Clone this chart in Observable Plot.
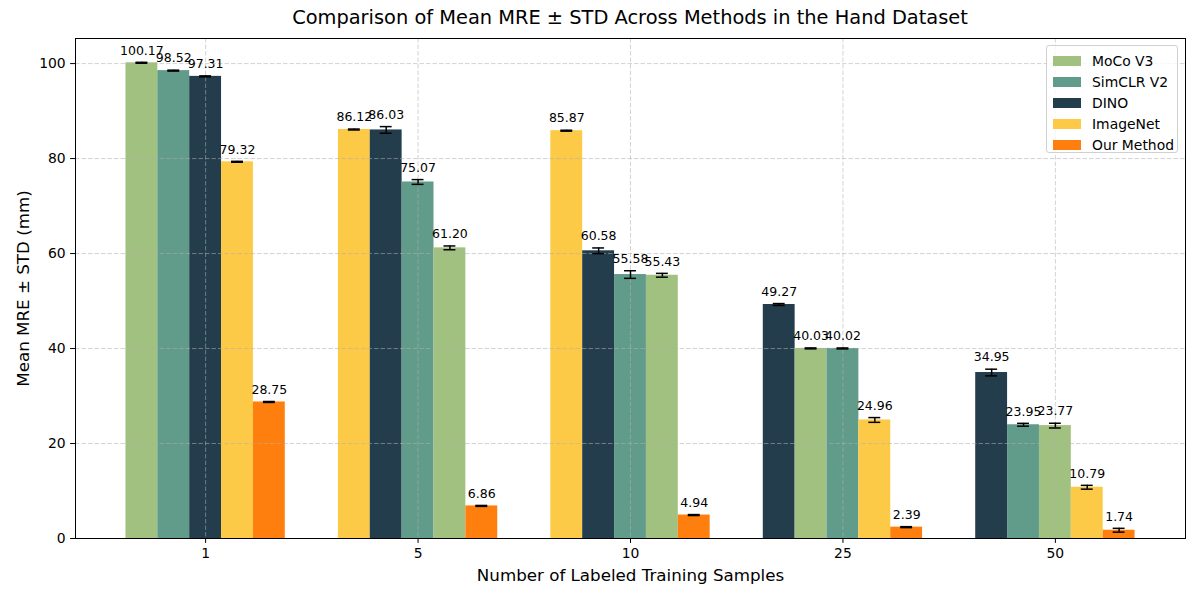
<!DOCTYPE html>
<html>
<head>
<meta charset="utf-8">
<script src="https://cdn.jsdelivr.net/npm/d3@7"></script>
<script src="https://cdn.jsdelivr.net/npm/@observablehq/plot@0.6"></script>
<style>
  html, body { margin: 0; padding: 0; background: white; }
  #wrap { position: relative; width: 1200px; height: 600px; font-family: "DejaVu Sans", sans-serif; }
  #title { height: 37px; box-sizing: border-box; padding: 6px 15px 0 75px; text-align: center; font-size: 19.4px; color: black; line-height: 24px; }
  #legend { position: absolute; left: 1046px; top: 45px; width: 132px; height: 108px; box-sizing: border-box;
    border: 1px solid #d0d0d0; border-radius: 3px; background: rgba(255,255,255,0.8); padding: 4px 0 0 6px; }
  .row { display: flex; align-items: center; height: 21px; font-size: 13.9px; color: black; }
  .sw { width: 28px; height: 10px; margin-right: 11px; }
</style>
</head>
<body>
<div id="wrap">
  <div id="title">Comparison of Mean MRE ± STD Across Methods in the Hand Dataset</div>
  <div id="chart"></div>
  <div id="legend"></div>
</div>
<script>
const groups = ["1", "5", "10", "25", "50"];
const methods = ["MoCo V3", "SimCLR V2", "DINO", "ImageNet", "Our Method"];
const colors = ["#a1c181", "#619b8a", "#233d4d", "#fcca46", "#ff7f0e"];

const mocoMean     = [100.17, 61.20, 55.43, 40.03, 23.77];
const simclrMean   = [98.52, 75.07, 55.58, 40.02, 23.95];
const dinoMean     = [97.31, 86.03, 60.58, 49.27, 34.95];
const imagenetMean = [79.32, 86.12, 85.87, 24.96, 10.79];
const oursMean     = [28.75, 6.86, 4.94, 2.39, 1.74];

const mocoStd     = [0.1, 0.4, 0.4, 0.1, 0.5];
const simclrStd   = [0.1, 0.5, 0.8, 0.1, 0.3];
const dinoStd     = [0.1, 0.7, 0.6, 0.2, 0.7];
const imagenetStd = [0.1, 0.1, 0.1, 0.5, 0.4];
const oursStd     = [0.1, 0.1, 0.1, 0.1, 0.4];

const yTicks = [0, 20, 40, 60, 80, 100];

const means = [mocoMean, simclrMean, dinoMean, imagenetMean, oursMean];
const stds = [mocoStd, simclrStd, dinoStd, imagenetStd, oursStd];

// build table: within each group, bars sorted by value descending
const bw = 0.15;
const nm = methods.length;
const data = [];
groups.forEach((g, gi) => {
  const rows = methods.map((m, mi) => ({group: g, gi, method: m, value: means[mi][gi], std: stds[mi][gi]}));
  rows.sort((a, b) => b.value - a.value);
  rows.forEach((r, rank) => {
    r.xc = gi + (rank - (nm - 1) / 2) * bw;
    data.push(r);
  });
});

const lo = -(nm * bw) / 2, hi = groups.length - 1 + (nm * bw) / 2;
const pad = 0.05 * (hi - lo);
const yMax = d3.max(data, d => d.value + d.std) * 1.05;
const capHalf = 0.028;

const gridStyle = {stroke: "#b0b0b0", strokeOpacity: 0.7, strokeWidth: 0.8, strokeDasharray: "4.5,2"};

const chart = Plot.plot({
  width: 1200,
  height: 563,
  marginTop: 1,
  marginBottom: 62,
  marginLeft: 75,
  marginRight: 15,
  style: {fontFamily: "DejaVu Sans", fontSize: "13.9px", color: "black", background: "white"},
  x: {domain: [lo - pad, hi + pad]},
  y: {domain: [0, yMax]},
  color: {domain: methods, range: colors},
  marks: [
    Plot.rect(data, {x1: d => d.xc - bw / 2, x2: d => d.xc + bw / 2, y1: 0, y2: "value", fill: "method", inset: 0}),
    Plot.gridX(groups.map((g, i) => i), gridStyle),
    Plot.gridY(yTicks, gridStyle),
    Plot.ruleX(data, {x: "xc", y1: d => d.value - d.std, y2: d => d.value + d.std, stroke: "black", strokeWidth: 1.5}),
    Plot.ruleY(data, {y: d => d.value - d.std, x1: d => d.xc - capHalf, x2: d => d.xc + capHalf, stroke: "black", strokeWidth: 1.5}),
    Plot.ruleY(data, {y: d => d.value + d.std, x1: d => d.xc - capHalf, x2: d => d.xc + capHalf, stroke: "black", strokeWidth: 1.5}),
    Plot.text(data, {x: "xc", y: d => d.value + d.std + 1, text: d => d.value.toFixed(2), lineAnchor: "bottom", dy: -3, fontSize: 12.5, fill: "black"}),
    Plot.axisX({ticks: groups.map((g, i) => i), tickFormat: i => groups[i], tickSize: 4.9, tickPadding: 4.9, label: null, stroke: "black"}),
    Plot.axisY({ticks: yTicks, tickSize: 4.9, tickPadding: 4.9, label: null, stroke: "black"}),
    Plot.text(["Number of Labeled Training Samples"], {frameAnchor: "bottom", dy: 37, lineAnchor: "middle", textAnchor: "middle", fontSize: 16.7, fill: "black"}),
    Plot.text(["Mean MRE ± STD (mm)"], {frameAnchor: "left", dx: -52, rotate: -90, lineAnchor: "middle", textAnchor: "middle", fontSize: 16.7, fill: "black"}),
    Plot.frame({stroke: "black", strokeWidth: 1})
  ]
});
document.getElementById("chart").appendChild(chart);

const legend = document.getElementById("legend");
methods.forEach((m, i) => {
  const row = document.createElement("div");
  row.className = "row";
  const sw = document.createElement("div");
  sw.className = "sw";
  sw.style.background = colors[i];
  const t = document.createElement("span");
  t.textContent = m;
  row.appendChild(sw);
  row.appendChild(t);
  legend.appendChild(row);
});
</script>
</body>
</html>
